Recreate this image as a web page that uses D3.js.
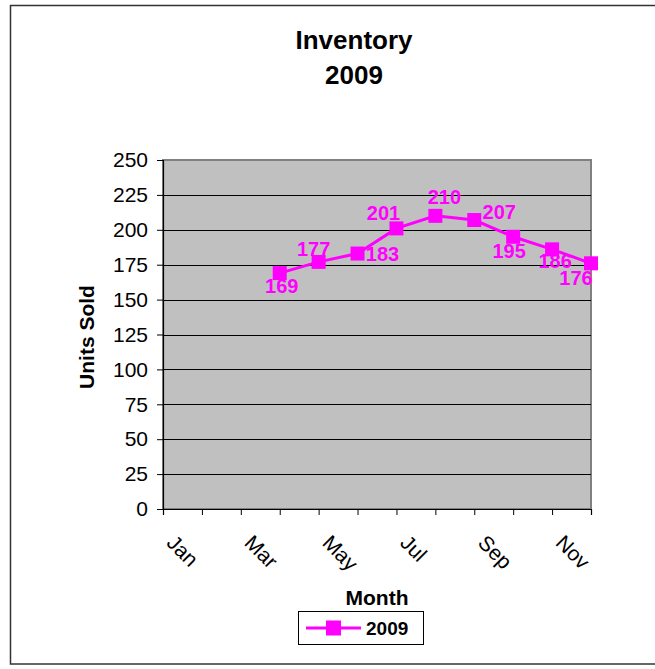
<!DOCTYPE html>
<html>
<head>
<meta charset="utf-8">
<script src="https://cdn.jsdelivr.net/npm/d3@7"></script>
<style>
  body { margin: 0; background: #fff; }
  svg { display: block; font-family: Arial, "Liberation Sans", sans-serif; }
</style>
</head>
<body>
<div id="wrapper"></div>
<script>
// data
const months = ["Jan", "Feb", "Mar", "Apr", "May", "Jun", "Jul", "Aug", "Sep", "Oct", "Nov", "Dec"]
const units2009 = [null, null, null, 169, 177, 183, 201, 210, 207, 195, 186, 176]
const yTicks = [0, 25, 50, 75, 100, 125, 150, 175, 200, 225, 250]
const seriesName = "2009"

// where each value label sits relative to its marker
const labelOffsets = [null, null, null,
  [2, 13], [-5, -13], [25, 0], [-13, -15], [9, -19], [25, -8], [-4, 14], [3, 12], [-15, 15]]

const color = "#FF00FF"
const fontFamily = "Arial, 'Liberation Sans', sans-serif"

let dimensions = {
  width: 655,
  height: 669,
  margin: { top: 160, right: 64, bottom: 160, left: 163 },
}
dimensions.boundedWidth = dimensions.width - dimensions.margin.left - dimensions.margin.right
dimensions.boundedHeight = dimensions.height - dimensions.margin.top - dimensions.margin.bottom

const wrapper = d3.select("#wrapper")
  .append("svg")
  .attr("width", dimensions.width)
  .attr("height", dimensions.height)

// outer chart border
wrapper.append("rect")
  .attr("x", 10.5).attr("y", 5.5)
  .attr("width", 660).attr("height", 658.5)
  .attr("fill", "#fff")
  .attr("stroke", "#333")
  .attr("stroke-width", 1.5)

const bounds = wrapper.append("g")
  .attr("transform", `translate(${dimensions.margin.left}, ${dimensions.margin.top})`)

const xScaler = d3.scalePoint()
  .domain(months)
  .range([0, dimensions.boundedWidth])

const yScaler = d3.scaleLinear()
  .domain([0, 250])
  .range([dimensions.boundedHeight, 0])

// plot area
bounds.append("rect")
  .attr("width", dimensions.boundedWidth)
  .attr("height", dimensions.boundedHeight)
  .attr("fill", "#C0C0C0")
  .attr("stroke", "#808080")
  .attr("stroke-width", 2)

// gridlines
bounds.append("g")
  .selectAll("line")
  .data(yTicks.filter(d => d > 0 && d < 250))
  .join("line")
  .attr("x1", 0)
  .attr("x2", dimensions.boundedWidth)
  .attr("y1", d => Math.round(yScaler(d)) + 0.5)
  .attr("y2", d => Math.round(yScaler(d)) + 0.5)
  .attr("stroke", "#000")
  .attr("stroke-width", 1)

// axes
const yAxis = bounds.append("g")
  .call(d3.axisLeft(yScaler).tickValues(yTicks).tickSize(6).tickPadding(9))
yAxis.select(".domain").attr("stroke", "#000").attr("stroke-width", 1.2)
yAxis.selectAll(".tick line").attr("stroke", "#000")
yAxis.selectAll("text")
  .attr("font-size", 21)
  .attr("font-family", fontFamily)
  .attr("fill", "#000")

const xAxis = bounds.append("g")
  .attr("transform", `translate(0, ${dimensions.boundedHeight})`)
  .call(d3.axisBottom(xScaler).tickSize(6).tickFormat(d => months.indexOf(d) % 2 === 0 ? d : ""))
xAxis.select(".domain").attr("stroke", "#000").attr("stroke-width", 1.2)
xAxis.selectAll(".tick line").attr("stroke", "#000")
xAxis.selectAll("text")
  .attr("font-size", 21)
  .attr("font-family", fontFamily)
  .attr("fill", "#000")
  .attr("text-anchor", "start")
  .attr("dy", 0)
  .attr("y", 0)
  .attr("transform", "translate(2, 35) rotate(45)")

// line + markers
const points = months.map((m, i) => ({ month: m, value: units2009[i], offset: labelOffsets[i] }))
  .filter(d => d.value !== null)

const lineGenerator = d3.line()
  .x(d => xScaler(d.month))
  .y(d => yScaler(d.value))

bounds.append("path")
  .datum(points)
  .attr("d", lineGenerator)
  .attr("fill", "none")
  .attr("stroke", color)
  .attr("stroke-width", 3)

const markerSize = 14
bounds.append("g")
  .selectAll("rect")
  .data(points)
  .join("rect")
  .attr("x", d => xScaler(d.month) - markerSize / 2)
  .attr("y", d => yScaler(d.value) - markerSize / 2)
  .attr("width", markerSize)
  .attr("height", markerSize)
  .attr("fill", color)

bounds.append("g")
  .selectAll("text")
  .data(points)
  .join("text")
  .attr("x", d => xScaler(d.month) + d.offset[0])
  .attr("y", d => yScaler(d.value) + d.offset[1])
  .attr("dy", "0.35em")
  .attr("text-anchor", "middle")
  .attr("font-size", 20)
  .attr("font-weight", "bold")
  .attr("fill", color)
  .text(d => d.value)

// titles
const title = wrapper.append("text")
  .attr("text-anchor", "middle")
  .attr("font-size", 26)
  .attr("font-weight", "bold")
title.append("tspan").attr("x", 354).attr("y", 49).text("Inventory")
title.append("tspan").attr("x", 354).attr("y", 84).text("2009")

wrapper.append("text")
  .attr("x", 377)
  .attr("y", 605)
  .attr("text-anchor", "middle")
  .attr("font-size", 21)
  .attr("font-weight", "bold")
  .text("Month")

wrapper.append("text")
  .attr("transform", "translate(94, 337) rotate(-90)")
  .attr("text-anchor", "middle")
  .attr("font-size", 21)
  .attr("font-weight", "bold")
  .text("Units Sold")

// legend
const legend = wrapper.append("g").attr("transform", "translate(298, 611)")
legend.append("rect")
  .attr("x", 0.5).attr("y", 0.5)
  .attr("width", 125).attr("height", 33)
  .attr("fill", "#fff")
  .attr("stroke", "#000")
  .attr("stroke-width", 1)
legend.append("line")
  .attr("x1", 8).attr("x2", 63)
  .attr("y1", 17).attr("y2", 17)
  .attr("stroke", color)
  .attr("stroke-width", 3)
legend.append("rect")
  .attr("x", 35.5 - 15 / 2).attr("y", 17 - 15 / 2)
  .attr("width", 15).attr("height", 15)
  .attr("fill", color)
legend.append("text")
  .attr("x", 68).attr("y", 17)
  .attr("dy", "0.35em")
  .attr("font-size", 19)
  .attr("font-weight", "bold")
  .text(seriesName)
</script>
</body>
</html>
